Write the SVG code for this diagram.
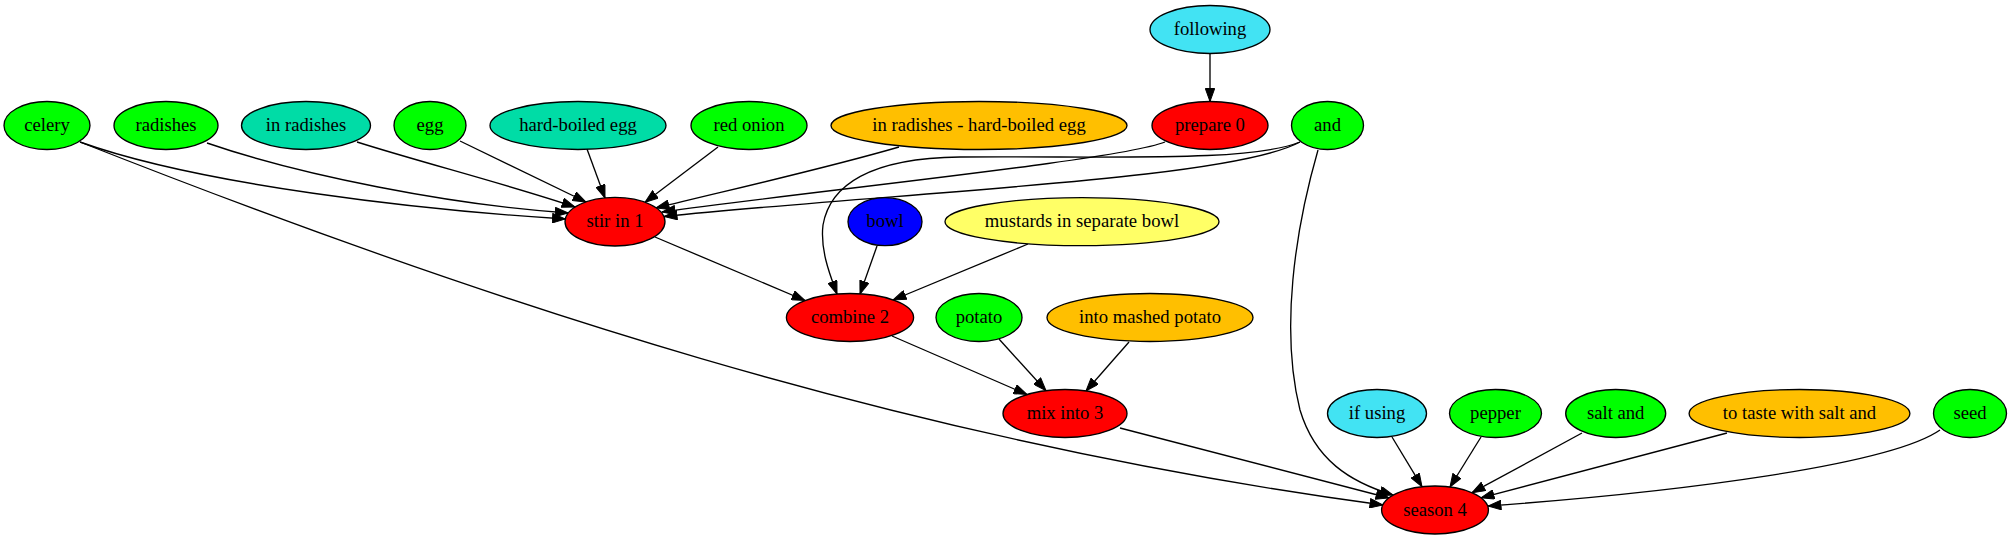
<svg xmlns="http://www.w3.org/2000/svg" width="2012" height="539" viewBox="0 0 2012 539">
<style>
.n ellipse{stroke:#000;stroke-width:1.33}
.n text{font-family:"Liberation Serif","Times New Roman",serif;font-size:18.67px;text-anchor:middle;fill:#000}
.e path{fill:none;stroke:#000;stroke-width:1.33;marker-end:url(#arr)}
.green{fill:#00ff00}.teal{fill:#00dca6}.cyan{fill:#42e3f3}.orange{fill:#ffbf00}.red{fill:#ff0000}.blue{fill:#0000ff}.yellow{fill:#ffff66}
</style>
<defs>
<marker id="arr" markerUnits="userSpaceOnUse" viewBox="0 0 14 10" refX="13.5" refY="5" markerWidth="14" markerHeight="10" orient="auto">
<path d="M0.5,0.3 L13.5,5 L0.5,9.7 z" fill="#000" stroke="#000" stroke-width="1"/>
</marker>
</defs>
<rect width="2012" height="539" fill="#fff"/>
<g id="connectors" class="e">
<path d="M1210,53.5 L1210,101.5"/>
<path d="M80,142 C200,185 420,210 565.5,219"/>
<path d="M80,142 C480,300 900,440 1383,505"/>
<path d="M207,143 C300,175 450,205 568.3,213"/>
<path d="M357,142 C420,162 510,185 575,207"/>
<path d="M460,141 L586,202"/>
<path d="M587,149 L605,198"/>
<path d="M718,147 L645,202.3"/>
<path d="M899,147 C820,170 720,192 656,208"/>
<path d="M1165,142 C1120,160 820,190 662,212"/>
<path d="M1300,142 C1230,180 900,192 664,216.5"/>
<path d="M1300,142 C1250,162 1120,156 960,157 C870,158 830,185 823,225 C820,250 830,275 837,294"/>
<path d="M1318,150 C1295,230 1280,330 1300,410 C1315,460 1350,482 1393,495"/>
<path d="M655,237 L805,300.5"/>
<path d="M877,246 L860,294"/>
<path d="M1028,244 L893,300"/>
<path d="M892,336 L1027,394.5"/>
<path d="M999,339 L1046,390.7"/>
<path d="M1129,342 L1086,391"/>
<path d="M1120,428 L1389,498"/>
<path d="M1392,437 L1422,486.7"/>
<path d="M1481,437 L1450,487"/>
<path d="M1582,433 L1472,492.7"/>
<path d="M1727,433 L1481,497.8"/>
<path d="M1940,430 C1890,465 1680,492 1488,506"/>
</g>
<g id="following" class="n"><ellipse class="cyan" cx="1210" cy="29.5" rx="60" ry="24"/><text x="1210" y="35.1">following</text></g>
<g id="celery" class="n"><ellipse class="green" cx="47" cy="125.5" rx="43" ry="24"/><text x="47" y="131.1">celery</text></g>
<g id="radishes" class="n"><ellipse class="green" cx="166" cy="125.5" rx="52" ry="24"/><text x="166" y="131.1">radishes</text></g>
<g id="in_radishes" class="n"><ellipse class="teal" cx="306" cy="125.5" rx="64.5" ry="24"/><text x="306" y="131.1">in radishes</text></g>
<g id="egg" class="n"><ellipse class="green" cx="430" cy="125.5" rx="36" ry="24"/><text x="430" y="131.1">egg</text></g>
<g id="hard_boiled_egg" class="n"><ellipse class="teal" cx="578" cy="125.5" rx="88" ry="24"/><text x="578" y="131.1">hard-boiled egg</text></g>
<g id="red_onion" class="n"><ellipse class="green" cx="749" cy="125.5" rx="58" ry="24"/><text x="749" y="131.1">red onion</text></g>
<g id="in_radishes_hbe" class="n"><ellipse class="orange" cx="979" cy="125.5" rx="148" ry="24"/><text x="979" y="131.1">in radishes - hard-boiled egg</text></g>
<g id="prepare_0" class="n"><ellipse class="red" cx="1210" cy="125.5" rx="58" ry="24"/><text x="1210" y="131.1">prepare 0</text></g>
<g id="and" class="n"><ellipse class="green" cx="1327.5" cy="125.5" rx="36" ry="24"/><text x="1327.5" y="131.1">and</text></g>
<g id="stir_in_1" class="n"><ellipse class="red" cx="615" cy="221.7" rx="50" ry="24.3"/><text x="615" y="227.3">stir in 1</text></g>
<g id="bowl" class="n"><ellipse class="blue" cx="885" cy="221.7" rx="37" ry="24"/><text x="885" y="227.3">bowl</text></g>
<g id="mustards" class="n"><ellipse class="yellow" cx="1082" cy="221.7" rx="137" ry="24"/><text x="1082" y="227.3">mustards in separate bowl</text></g>
<g id="combine_2" class="n"><ellipse class="red" cx="850" cy="317.5" rx="63.6" ry="24"/><text x="850" y="323.1">combine 2</text></g>
<g id="potato" class="n"><ellipse class="green" cx="979" cy="317.5" rx="43" ry="24"/><text x="979" y="323.1">potato</text></g>
<g id="into_mashed_potato" class="n"><ellipse class="orange" cx="1150" cy="317.5" rx="103" ry="24"/><text x="1150" y="323.1">into mashed potato</text></g>
<g id="mix_into_3" class="n"><ellipse class="red" cx="1065" cy="413.5" rx="62" ry="24"/><text x="1065" y="419.1">mix into 3</text></g>
<g id="if_using" class="n"><ellipse class="cyan" cx="1377" cy="413.5" rx="49.5" ry="24"/><text x="1377" y="419.1">if using</text></g>
<g id="pepper" class="n"><ellipse class="green" cx="1495.5" cy="413.5" rx="46" ry="24"/><text x="1495.5" y="419.1">pepper</text></g>
<g id="salt_and" class="n"><ellipse class="green" cx="1615.7" cy="413.5" rx="50" ry="24"/><text x="1615.7" y="419.1">salt and</text></g>
<g id="to_taste" class="n"><ellipse class="orange" cx="1799.5" cy="413.5" rx="110.4" ry="24"/><text x="1799.5" y="419.1">to taste with salt and</text></g>
<g id="seed" class="n"><ellipse class="green" cx="1970" cy="413.5" rx="36.5" ry="24"/><text x="1970" y="419.1">seed</text></g>
<g id="season_4" class="n"><ellipse class="red" cx="1435" cy="510" rx="53.4" ry="24"/><text x="1435" y="515.6">season 4</text></g>
</svg>
